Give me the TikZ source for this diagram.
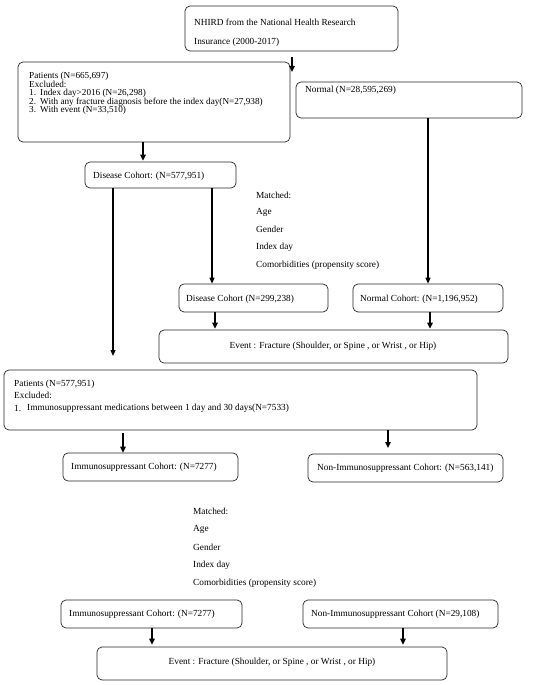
\documentclass[tikz,border=0pt]{standalone}
\usepackage{fontspec}
\setmainfont{Liberation Serif}
\usetikzlibrary{arrows.meta,calc}
\tikzset{
  box/.style={draw=black!85, line width=0.7pt, rounded corners=5pt, inner sep=0pt},
  txt/.style={anchor=west, inner sep=0pt, font=\fontsize{9.3}{11}\selectfont},
  ctxt/.style={anchor=center, inner sep=0pt, font=\fontsize{9.3}{11}\selectfont},
  listtxt/.style={anchor=north west, inner sep=0pt, align=left, font=\fontsize{9.2}{8.5}\selectfont},
  thickarr/.style={line width=1.8pt, -{Triangle[length=6pt,width=5.5pt]}},
  thinarr/.style={line width=1.2pt, -{Triangle[length=6pt,width=5pt]}},
}
\newcommand{\itemno}[1]{\makebox[11pt][l]{#1}}
\begin{document}
\begin{tikzpicture}[x=1pt,y=-1pt]
\useasboundingbox (0,0) rectangle (550,685);
% boxes
\node[box, minimum width=213, minimum height=45] (nhird) at (291.5,28.5) {};
\node[box, minimum width=272, minimum height=80] (pat1) at (154,102) {};
\node[box, minimum width=226, minimum height=36] (normal) at (409,100) {};
\node[box, minimum width=151, minimum height=26] (dc1) at (160.5,175) {};
\node[box, minimum width=149, minimum height=28] (dc2) at (253.5,298) {};
\node[box, minimum width=150, minimum height=28] (nc) at (428,298) {};
\node[box, minimum width=349, minimum height=33] (ev1) at (333.5,346.5) {};
\node[box, minimum width=473, minimum height=60] (pat2) at (240.5,400) {};
\node[box, minimum width=175, minimum height=28] (ic1) at (150.5,467) {};
\node[box, minimum width=195, minimum height=28] (nic1) at (405.5,468) {};
\node[box, minimum width=181, minimum height=28] (ic2) at (151.5,614) {};
\node[box, minimum width=195, minimum height=28] (nic2) at (400.5,614) {};
\node[box, minimum width=350, minimum height=33] (ev2) at (272,663.5) {};
% texts
\node[txt] (t1) at (194,22) {NHIRD from the National Health Research};
\node[txt] (t2) at (194,42) {Insurance (2000-2017)};
\node[listtxt] (t3) at (29,72) {Patients (N=665,697)\\
Excluded:\\
\itemno{1.}Index day>2016 (N=26,298)\\
\itemno{2.}With any fracture diagnosis before the index day(N=27,938)\\
\itemno{3.}With event (N=33,510)};
\node[txt] (t8) at (305,90) {Normal (N=28,595,269)};
\node[txt] (t9) at (93,176) {Disease Cohort: (N=577,951)};
\node[txt] (m1) at (256,195) {Matched:};
\node[txt] (m2) at (256,212) {Age};
\node[txt] (m3) at (256,229.5) {Gender};
\node[txt] (m4) at (256,247) {Index day};
\node[txt] (m5) at (256,265) {Comorbidities (propensity score)};
\node[txt] (t10) at (186,299) {Disease Cohort (N=299,238)};
\node[txt] (t11) at (360,299) {Normal Cohort: (N=1,196,952)};
\node[ctxt] (t12) at (333,346) {Event : Fracture (Shoulder, or Spine , or Wrist , or Hip)};
\node[txt] (t13) at (14,384) {Patients (N=577,951)};
\node[txt] (t14) at (14,395.5) {Excluded:};
\node[txt] (t15n) at (14,408) {1.};
\node[txt] (t15) at (27,408) {Immunosuppressant medications between 1 day and 30 days(N=7533)};
\node[txt] (t16) at (71,467) {Immunosuppressant Cohort: (N=7277)};
\node[txt] (t17) at (317,468) {Non-Immunosuppressant Cohort: (N=563,141)};
\node[txt] (n1) at (193,511) {Matched:};
\node[txt] (n2) at (193,529) {Age};
\node[txt] (n3) at (193,547) {Gender};
\node[txt] (n4) at (193,565) {Index day};
\node[txt] (n5) at (193,583) {Comorbidities (propensity score)};
\node[txt] (t18) at (69,614) {Immunosuppressant Cohort: (N=7277)};
\node[txt] (t19) at (311,614) {Non-Immunosuppressant Cohort (N=29,108)};
\node[ctxt] (t20) at (272,662) {Event : Fracture (Shoulder, or Spine , or Wrist , or Hip)};
% arrow x positions and free ends
\coordinate (xa1) at (292,0);
\coordinate (xa3) at (143,0);
\coordinate (xa4) at (113,0);
\coordinate (xa5) at (212,0);
\coordinate (xa6) at (215,0);
\coordinate (xa7) at (430,0);
\coordinate (xa8) at (123,0);
\coordinate (xa10) at (152,0);
\coordinate (xa11) at (403,0);
\coordinate (e1) at (292,72);
\coordinate (e4) at (113,356);
\coordinate (e9) at (388,448);
% arrows
\draw[thickarr] ([yshift=-6pt]nhird.south -| xa1) -- (e1);
\draw[thinarr] (normal.south -| nc.north) -- (nc.north);
\draw[thickarr] (pat1.south -| xa3) -- ([yshift=1pt]dc1.north -| xa3);
\draw[thinarr] (dc1.south -| xa4) -- (e4);
\draw[thinarr] (dc1.south -| xa5) -- (dc2.north -| xa5);
\draw[thickarr] (dc2.south -| xa6) -- ([yshift=1pt]ev1.north -| xa6);
\draw[thickarr] (nc.south -| xa7) -- ([yshift=1pt]ev1.north -| xa7);
\draw[thickarr] ([yshift=-3pt]pat2.south -| xa8) -- (ic1.north -| xa8);
\draw[thickarr] (pat2.south -| e9) -- (e9);
\draw[thickarr] (ic2.south -| xa10) -- ([yshift=2pt]ev2.north -| xa10);
\draw[thickarr] (nic2.south -| xa11) -- ([yshift=2pt]ev2.north -| xa11);
\end{tikzpicture}
\end{document}
